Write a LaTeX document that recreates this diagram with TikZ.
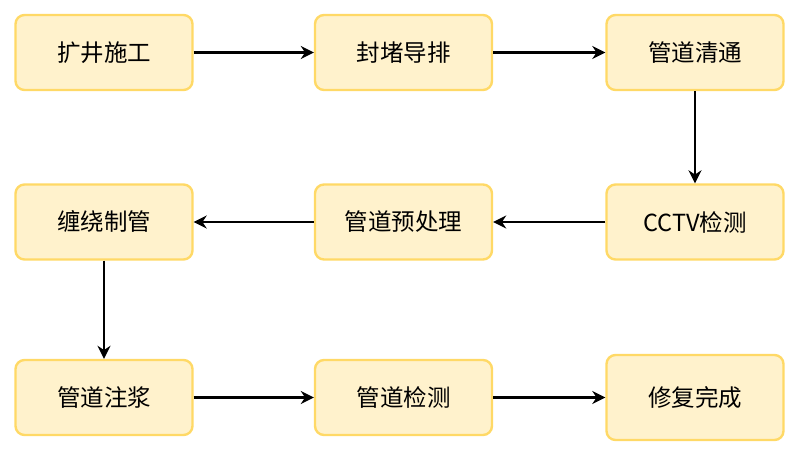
\documentclass[tikz,border=0pt]{standalone}
\usepackage{fontspec}
\setmainfont{Noto Sans CJK SC}
\usetikzlibrary{arrows.meta}
\definecolor{boxfill}{HTML}{FFF2CC}
\definecolor{boxline}{HTML}{FFD966}
\tikzset{
	stepbox/.style={draw=boxline, fill=boxfill, line width=2.4pt, rounded corners=9pt,
		minimum width=177pt, minimum height=75pt, inner sep=0pt,
		font=\fontsize{23.5}{28}\selectfont},
	flow/.style={line width=2.4pt, -{Stealth[length=13pt,width=13pt]}}
}

\begin{document}
\begin{tikzpicture}[x=1pt, y=-1pt]
			%%%%% START %%%%%
			
			\useasboundingbox (0, 0) rectangle (800, 456);
			
			\node[stepbox] (kuojing) at (104, 52.5) {扩井施工};
			\node[stepbox] (fengdu) at (403.5, 52.5) {封堵导排};
			\node[stepbox] (qingtong) at (695, 52.5) {管道清通};
			
			\node[stepbox] (cctv) at (695, 222) {CCTV检测};
			\node[stepbox] (yuchuli) at (403.5, 222) {管道预处理};
			\node[stepbox] (chanrao) at (104, 222) {缠绕制管};
			
			\node[stepbox] (zhujiang) at (104, 397.5) {管道注浆};
			\node[stepbox] (jiance) at (403.5, 397.5) {管道检测};
			\node[stepbox, minimum height=85pt] (wancheng) at (695, 397.5) {修复完成};
			
			\draw[flow] (kuojing) -- (fengdu);
			\draw[flow] (fengdu) -- (qingtong);
			\draw[flow] (qingtong) -- (cctv);
			\draw[flow] (cctv) -- (yuchuli);
			\draw[flow] (yuchuli) -- (chanrao);
			\draw[flow] (chanrao) -- (zhujiang);
			\draw[flow] (zhujiang) -- (jiance);
			\draw[flow] (jiance) -- (wancheng);
			
			%%%%% END %%%%%
\end{tikzpicture}
\end{document}
